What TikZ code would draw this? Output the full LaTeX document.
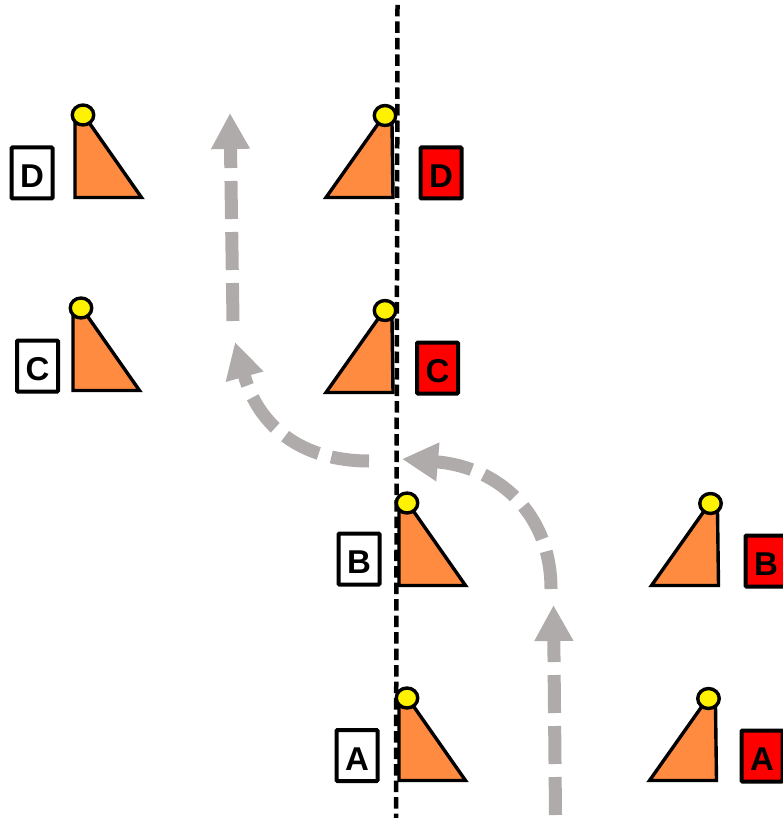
\documentclass[tikz,border=0pt]{standalone}
\usepackage{fontspec}
\setmainfont{Liberation Sans}
\usetikzlibrary{arrows.meta,shapes.geometric}
\definecolor{flowgray}{HTML}{AFABAB}
\definecolor{coneorange}{HTML}{FF8B41}
\tikzset{
  flow/.style={draw=flowgray,line width=13pt,dash pattern=on 38pt off 13pt,
    -{Triangle[width=36.5pt,length=36pt,fill=flowgray]}},
  axisline/.style={draw=black,line width=4.5pt,dash pattern=on 11.5pt off 5pt},
  cone/.style={draw=black,line width=3.4pt,fill=coneorange,line join=miter,miter limit=10},
  lamp/.style={draw=black,line width=3.4pt,fill=yellow,ellipse,minimum width=21.5pt,minimum height=20pt,inner sep=0pt},
  tagbox/.style={draw=black,line width=4pt,rounded corners=1pt,minimum width=41pt,minimum height=51pt,
    inner sep=0pt,font=\bfseries\fontsize{33}{33}\selectfont,text=black},
  whitetag/.style={tagbox,fill=white},
  redtag/.style={tagbox,fill=red},
}
\newcommand{\tagtext}[1]{\raisebox{-3pt}[23.6pt][0pt]{#1}}
\newcommand{\coneR}[3]{% vertical edge on the left; #2,#3 = bottom-left corner
  \draw[cone] (#2,#3-74) -- (#2,#3) -- (#2+66.5,#3) -- (#2+14,#3-75) -- cycle;
  \node[lamp] (lamp#1) at (#2+8,#3-82.5) {};
}
\newcommand{\coneL}[3]{% vertical edge on the right; #2,#3 = bottom-right corner
  \draw[cone] (#2-1,#3-74) -- (#2,#3) -- (#2-67,#3) -- (#2-14,#3-75) -- cycle;
  \node[lamp] (lamp#1) at (#2-8,#3-82) {};
}
\begin{document}
\begin{tikzpicture}[x=1pt,y=-1pt]
\useasboundingbox (0,0) rectangle (783,818);
\coordinate (axistop) at (397.5,5);
\coordinate (axisbot) at (396,818);
\draw[axisline] (axistop) -- (axisbot);

\coneR{DL}{75}{197.5}
\coneR{CL}{73}{390.5}
\coneR{BL}{399}{585.5}
\coneR{AL}{399}{780.5}
\coneL{DR}{393}{197.5}
\coneL{CR}{393}{392.5}
\coneL{BR}{718.5}{585.5}
\coneL{AR}{716.5}{780.5}

\node[whitetag] (wD) at (32,173) {\tagtext{D}};
\node[whitetag] (wC) at (37.5,366) {\tagtext{C}};
\node[whitetag] (wB) at (359,559) {\tagtext{B}};
\node[whitetag] (wA) at (357,755.5) {\tagtext{A}};
\node[redtag] (rD) at (441,173) {\tagtext{D}};
\node[redtag] (rC) at (437.5,368) {\tagtext{C}};
\node[redtag] (rB) at (766,561) {\tagtext{B}};
\node[redtag] (rA) at (762,756) {\tagtext{A}};

\coordinate (s1) at (555.5,815);
\coordinate (e1) at (553.5,605);
\coordinate (s2) at (551,589);
\coordinate (e2) at (402,459);
\coordinate (s3) at (369,461);
\coordinate (e3) at (235,342);
\coordinate (s4) at (233,321);
\coordinate (e4) at (230,113);
\draw[flow] (s1) -- (e1);
\draw[flow] (s2) .. controls (551,515) and (500,467) .. (e2);
\draw[flow] (s3) .. controls (300,461) and (258,425) .. (e3);
\draw[flow] (s4) -- (e4);
\end{tikzpicture}
\end{document}
